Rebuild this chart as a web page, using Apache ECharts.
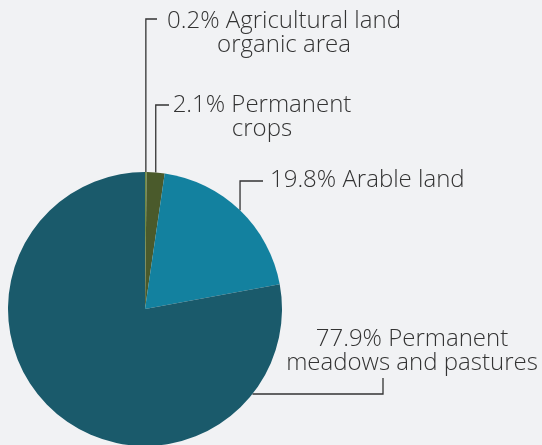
<!DOCTYPE html>
<html>
<head>
<meta charset="utf-8">
<script src="https://cdn.jsdelivr.net/npm/echarts@6/dist/echarts.min.js"></script>
</head>
<body style="margin:0;background:#f1f2f4">
<div id="main" style="width:542px;height:445px;"></div>
<script>
// land use shares (%)
var names = ['Agricultural land\norganic area', 'Permanent\ncrops', 'Arable land', 'Permanent\nmeadows and pastures'];
var values = [0.2, 2.1, 19.8, 77.9];
var colors = ['#6f8a45', '#4a5a2b', '#13819f', '#1a5a6b'];

var CX = 145, CY = 309, R = 137;
// where each label sits, and the y of the leader elbow
var spots = [
  {x: 284, y: 9, align: 'center', elbowY: 19, endX: 157},
  {x: 262, y: 93, align: 'center', elbowY: 105, endX: 169},
  {x: 270, y: 168, align: 'left', elbowY: 181, endX: 263},
  {x: 412, y: 327, align: 'center'}
];

var myChart = echarts.init(document.getElementById('main'));

var seriesData = [];
for (var i = 0; i < values.length; i++) {
  seriesData.push({name: names[i], value: values[i], itemStyle: {color: colors[i]}});
}

myChart.setOption({
  backgroundColor: '#f1f2f4',
  animation: false,
  series: [{
    type: 'pie',
    center: [CX, CY],
    radius: [0, R],
    startAngle: 90,
    clockwise: true,
    avoidLabelOverlap: false,
    itemStyle: {borderWidth: 0},
    label: {
      show: true,
      position: 'outside',
      color: '#333',
      fontFamily: 'Open Sans',
      fontWeight: 300,
      fontSize: 24,
      lineHeight: 24,
      formatter: function (p) {
        return p.value.toFixed(1) + '% ' + p.name;
      }
    },
    labelLine: {
      show: true,
      length: 10,
      length2: 10,
      lineStyle: {color: '#333', width: 1.3}
    },
    labelLayout: function (params) {
      var s = spots[params.dataIndex];
      var pts;
      if (params.dataIndex < 3) {
        var a = params.labelLinePoints[0];
        pts = [[a[0], a[1]], [a[0], s.elbowY], [s.endX, s.elbowY]];
      } else {
        var ly = 394;
        var ax = CX + Math.sqrt(R * R - (ly - CY) * (ly - CY));
        pts = [[ax, ly], [383, ly], [383, 378]];
      }
      return {
        x: s.x,
        y: s.y,
        align: s.align,
        verticalAlign: 'top',
        labelLinePoints: pts
      };
    },
    data: seriesData
  }]
});
</script>
</body>
</html>
